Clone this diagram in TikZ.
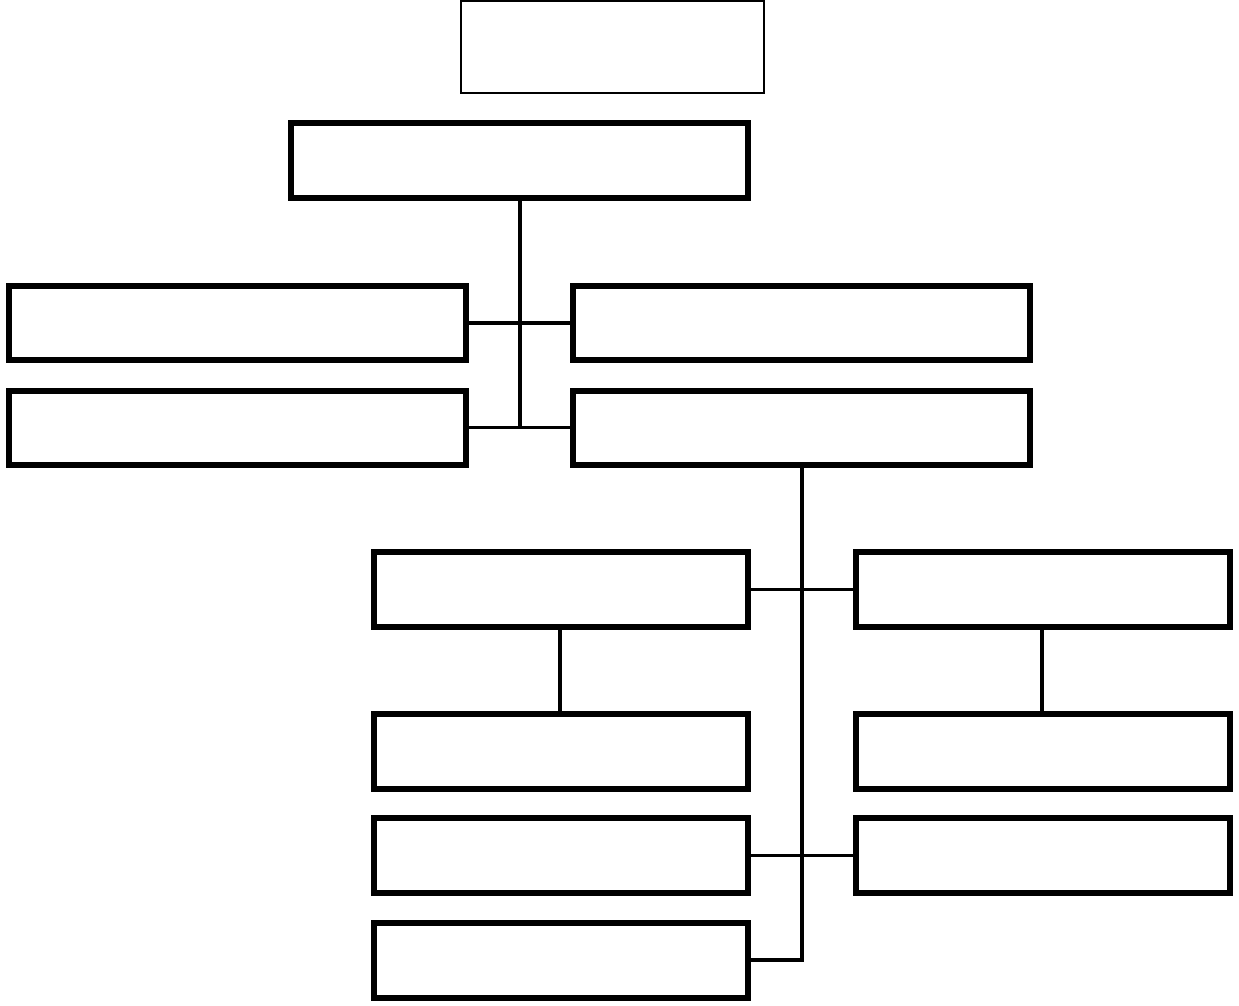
\documentclass[tikz,border=0pt]{standalone}
\begin{document}
\begin{tikzpicture}[x=0.02cm,y=-0.02cm,
  boxthick/.style={draw=black,line width=4*0.02cm,fill=white},
  boxthin/.style={draw=black,line width=1.5*0.02cm},
  link/.style={draw=black,line width=3.2*0.02cm}]
\useasboundingbox[fill=white] (0,0) rectangle (1239,1005);
\coordinate (t1) at (461,1); \coordinate (t2) at (764,93);
\draw[boxthin] (t1) rectangle (t2);
\node[boxthick,inner sep=0,minimum width=455*0.02cm,minimum height=73*0.02cm] (b1) at (519.5,160.5) {};
\tikzset{wide/.style={boxthick,inner sep=0,minimum width=455*0.02cm,minimum height=72*0.02cm},
         mid/.style={boxthick,inner sep=0,minimum width=372*0.02cm,minimum height=73*0.02cm}}
\node[wide] (l1) at (237.5,323) {};
\node[wide] (r1) at (801.5,323) {};
\node[wide] (l2) at (237.5,427.5) {};
\node[wide] (r2) at (801.5,427.5) {};
\node[mid] (c1) at (561,589.5) {};
\node[mid] (d1) at (1043,589.5) {};
\node[mid] (c2) at (561,751.5) {};
\node[mid] (d2) at (1043,751.5) {};
\node[mid] (c3) at (561,855.5) {};
\node[mid] (d3) at (1043,855.5) {};
\node[mid] (c4) at (561,960) {};
% connectors
\coordinate (j1) at (520,427);
\draw[link] (b1.south -| j1) -- (j1);
\draw[link] (l1.east) -- (r1.west);
\draw[link] (l2.east) -- (r2.west);
\coordinate (j2) at (802,960);
\draw[link] (r2.south -| j2) -- (j2) -- (c4.east);
\draw[link] (c1.east) -- (d1.west);
\draw[link] (c3.east) -- (d3.west);
\draw[link] (c1.south -| 560,0) -- (c2.north -| 560,0);
\draw[link] (d1.south -| 1042,0) -- (d2.north -| 1042,0);
% redraw boxes over connectors
\foreach \n in {b1,l1,r1,l2,r2,c1,d1,c2,d2,c3,d3,c4}{
  \draw[line width=4*0.02cm] (\n.north west) rectangle (\n.south east);}
\end{tikzpicture}
\end{document}
